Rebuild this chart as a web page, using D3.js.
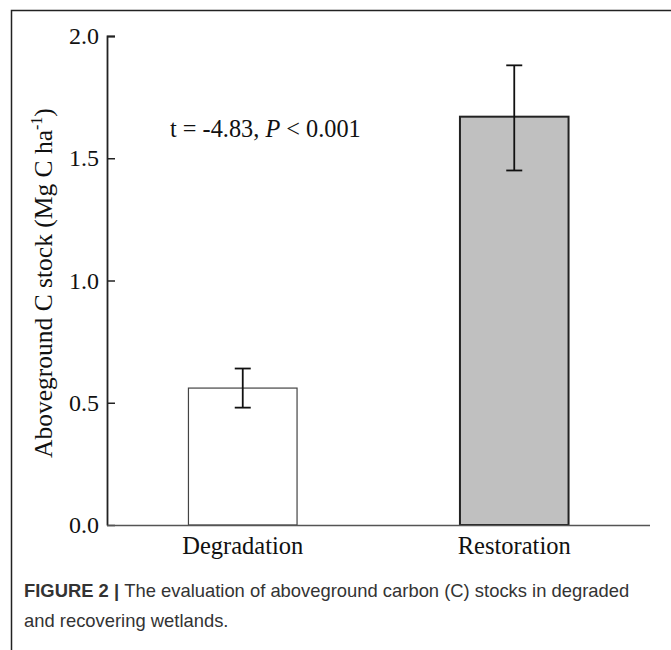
<!DOCTYPE html>
<html><head><meta charset="utf-8">
<script src="https://cdn.jsdelivr.net/npm/d3@7"></script>
<style>body{margin:0;background:#fff}svg{display:block}</style>
</head><body>
<script>
const categories = ["Degradation", "Restoration"];
const means = [0.56, 1.67];
const errLow = [0.48, 1.45];
const errHigh = [0.64, 1.88];
const fills = ["#ffffff", "#c0c0c0"];
const yTicks = [0.0, 0.5, 1.0, 1.5, 2.0];

const W = 671, H = 650;
const svg = d3.select("body").append("svg").attr("width", W).attr("height", H);

// frame
svg.append("path").attr("d", `M11.5,${H} V10.5 H${W}`).attr("fill","none").attr("stroke","#222").attr("stroke-width",1.5);

const x = d3.scaleBand().domain(categories).range([107, 650]).paddingInner(0.6).paddingOuter(0.3);
const y = d3.scaleLinear().domain([0, 2]).range([525, 36]);
const serif = "'Liberation Serif','Times New Roman',serif";

// bars
svg.selectAll("rect.bar").data(categories).join("rect")
  .attr("x", d => x(d)).attr("width", x.bandwidth())
  .attr("y", (d,i) => y(means[i])).attr("height", (d,i) => y(0) - y(means[i]))
  .attr("fill", (d,i) => fills[i]).attr("stroke", (d,i)=> i===0 ? "#444" : "#222").attr("stroke-width", (d,i)=> i===0 ? 1.2 : 2);

// error bars
categories.forEach((c,i) => {
  const cx = x(c) + x.bandwidth()/2;
  const g = svg.append("g").attr("stroke","#111").attr("stroke-width",1.8);
  g.append("line").attr("x1",cx).attr("x2",cx).attr("y1",y(errLow[i])).attr("y2",y(errHigh[i]));
  g.append("line").attr("x1",cx-8).attr("x2",cx+8).attr("y1",y(errLow[i])).attr("y2",y(errLow[i]));
  g.append("line").attr("x1",cx-8).attr("x2",cx+8).attr("y1",y(errHigh[i])).attr("y2",y(errHigh[i]));
});

// y axis
const ya = svg.append("g").attr("transform","translate(107,0)")
  .call(d3.axisRight(y).tickValues(yTicks).tickFormat(d3.format(".1f")).tickSize(8));
ya.select(".domain").attr("stroke","#222").attr("stroke-width",1.8).attr("d","M8,36.5H0.5V525.5");
ya.selectAll(".tick line").attr("stroke","#222").attr("stroke-width",1.5);
ya.selectAll(".tick text").attr("x",-8).attr("text-anchor","end").attr("dy","0.32em")
  .attr("font-family",serif).attr("font-size",24).attr("fill","#111");

// x axis
const xa = svg.append("g").attr("transform","translate(0,525)")
  .call(d3.axisBottom(x).tickSize(0).tickPadding(12));
xa.select(".domain").attr("stroke","#555").attr("stroke-width",1.5).attr("d","M107,0.5H650");
xa.selectAll(".tick text").attr("font-family",serif).attr("font-size",24.5).attr("fill","#111");

// y title
const yt = svg.append("text").attr("transform","translate(52,283) rotate(-90)")
  .attr("text-anchor","middle").attr("font-family",serif).attr("font-size",25.5).attr("fill","#111");
yt.append("tspan").text("Aboveground C stock (Mg C ha");
yt.append("tspan").attr("dy",-10).attr("font-size",16).text("-1");
yt.append("tspan").attr("dy",10).text(")");

// annotation
const an = svg.append("text").attr("x",170).attr("y",137).attr("font-family",serif).attr("font-size",24.3).attr("fill","#111");
an.append("tspan").text("t = -4.83, ");
an.append("tspan").attr("font-style","italic").text("P");
an.append("tspan").text(" < 0.001");

// caption
const sans = "'Liberation Sans',Arial,sans-serif";
const c1 = svg.append("text").attr("x",24).attr("y",597).attr("font-family",sans).attr("font-size",18.4).attr("fill","#333");
c1.append("tspan").attr("font-weight","bold").text("FIGURE 2 | ");
c1.append("tspan").text("The evaluation of aboveground carbon (C) stocks in degraded");
svg.append("text").attr("x",24).attr("y",627).attr("font-family",sans).attr("font-size",18.4).attr("fill","#333")
  .text("and recovering wetlands.");
</script>
</body></html>
